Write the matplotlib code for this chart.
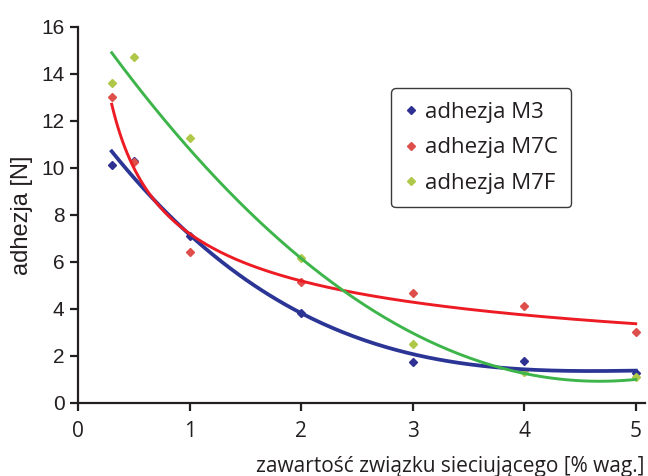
"""
Adhesion vs. crosslinker content for M3, M7C and M7F with Excel-like trend lines
"""
import numpy as np
import matplotlib.pyplot as plt
from matplotlib.lines import Line2D
#
plt.rcParams["font.family"] = ["Liberation Sans", "DejaVu Sans"]
#
# measured points
x_content = [0.3, 0.5, 1, 2, 3, 4, 5]
adh_m3 = [10.1, 10.3, 7.1, 3.8, 1.72, 1.79, 1.25]
adh_m7c = [13.0, 10.23, 6.41, 5.15, 4.65, 4.13, 3.0]
adh_m7f = [13.62, 14.72, 11.28, 6.14, 2.48, 1.3, 1.1]

x_ticks = [0, 1, 2, 3, 4, 5]
y_ticks = [0, 2, 4, 6, 8, 10, 12, 14, 16]
labels = ["adhezja M3", "adhezja M7C", "adhezja M7F"]

MARKER_COLORS = ["#2E3192", "#DE4F4B", "#AFC84A"]
LINE_COLORS = ["#2B3595", "#ED1C24", "#3DB54A"]
TXT = "#231F20"

x = np.array(x_content)
x_fit = np.linspace(0.3, 5, 200)

# trend lines: polynomial (3rd order), power, polynomial (2nd order)
p_m3 = np.polyfit(x, adh_m3, 3)
fit_m3 = np.polyval(p_m3, x_fit)
b_m7c, ln_a_m7c = np.polyfit(np.log(x), np.log(adh_m7c), 1)
fit_m7c = np.exp(ln_a_m7c) * x_fit ** b_m7c
p_m7f = np.polyfit(x, adh_m7f, 2)
fit_m7f = np.polyval(p_m7f, x_fit)

fig = plt.figure(figsize=(6.48, 4.76), dpi=100)
ax = fig.add_axes([0.1208, 0.154, 0.874, 0.790])

for vals, col in zip([adh_m3, adh_m7c, adh_m7f], MARKER_COLORS):
    ax.plot(x_content, vals, linestyle="none", marker="D", markersize=4.5,
            color=col, zorder=2)

ax.plot(x_fit, fit_m3, color=LINE_COLORS[0], lw=2.7, zorder=3)
ax.plot(x_fit, fit_m7c, color=LINE_COLORS[1], lw=2.1, zorder=3)
ax.plot(x_fit, fit_m7f, color=LINE_COLORS[2], lw=2.1, zorder=3)

ax.set_xlim(0, 5.08)
ax.set_ylim(0, 16)
ax.set_xticks(x_ticks)
ax.set_yticks(y_ticks)
ax.spines["top"].set_visible(False)
ax.spines["right"].set_visible(False)
for s in ["left", "bottom"]:
    ax.spines[s].set_linewidth(1.6)
    ax.spines[s].set_color(TXT)
ax.tick_params(direction="out", length=6, width=1.6, color=TXT,
               labelsize=15, labelcolor=TXT)
ax.tick_params(axis="y", pad=4)
ax.tick_params(axis="x", pad=7)
for lab in ax.get_xticklabels():
    lab.set_family(["Open Sans", "DejaVu Sans"])
    lab.set_fontsize(15)

ax.set_xlabel("zawartość związku sieciującego [% wag.]",
              family=["Open Sans", "DejaVu Sans"], fontsize=15, color=TXT)
ax.xaxis.set_label_coords(0.9995, -0.141)
ax.xaxis.label.set_horizontalalignment("right")
ax.set_ylabel("adhezja [N]", family=["Liberation Sans Narrow", "Liberation Sans"],
              fontsize=17, color=TXT)
ax.yaxis.set_label_coords(-0.08, 0.497)

handles = [Line2D([], [], linestyle="none", marker="D", markersize=4.5, color=c)
           for c in MARKER_COLORS]
leg = ax.legend(handles, labels, loc="upper left", bbox_to_anchor=(0.5525, 0.836),
                borderaxespad=0, frameon=True, fancybox=True,
                handletextpad=0.33, handlelength=0.6,
                borderpad=0.6, labelspacing=0.66,
                prop={"family": ["Open Sans", "DejaVu Sans"], "size": 16})
leg.get_frame().set_edgecolor("#3A3A3A")
leg.get_frame().set_linewidth(1.0)
leg.get_frame().set_alpha(1)
for t in leg.get_texts():
    t.set_color(TXT)

fig.savefig("out.png", dpi=100)
